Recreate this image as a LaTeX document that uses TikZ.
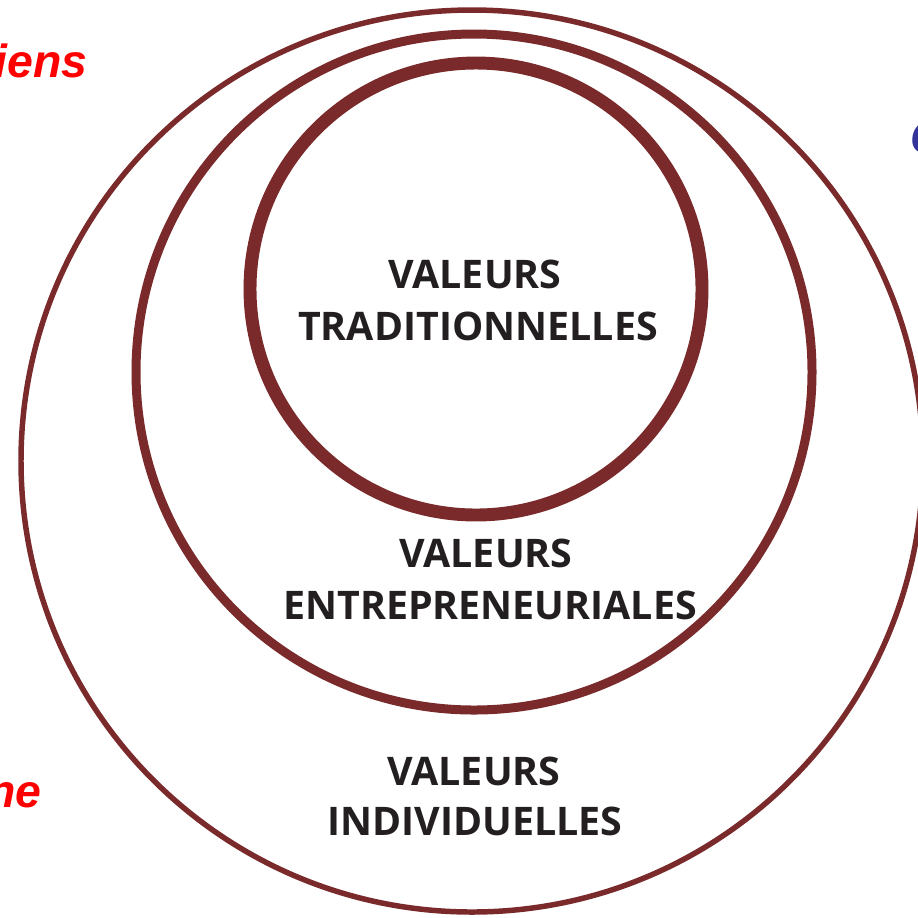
\documentclass[tikz,border=0pt]{standalone}
\usepackage{fontspec}
\setmainfont{Open Sans}
\newfontfamily\notefont{Liberation Sans}
\definecolor{ringred}{RGB}{122,42,43}
\definecolor{inkdark}{RGB}{35,31,32}
\definecolor{notered}{RGB}{255,0,0}
\definecolor{noteblue}{RGB}{51,51,153}
\begin{document}
\begin{tikzpicture}[x=0.025cm,y=-0.025cm,
    ring/.style={draw=ringred},
    valeur/.style={inner sep=0pt,anchor=base,text=inkdark,
      font=\fontsize{28}{34}\selectfont\bfseries},
    note/.style={inner sep=0pt,font=\notefont\fontsize{33}{38}\selectfont\bfseries\itshape}]
                    \useasboundingbox (0,0) rectangle (918,917);
                    \clip (0,0) rectangle (918,917);

                    % Drawing circle of individual values
                    \draw [ring, line width=3.9pt] (472,461) circle (451);%

                    % Drawing circle of entrepreneurial values
                    \draw [ring, line width=6.4pt] (474,372) circle (338);%

                    % Drawing circle of traditional values
                    \draw [ring, line width=9.2pt] (476,289) circle (226);%

                    % Marking traditional values
                    \node [valeur] (trad1) at (475,288) {VALEURS};%
                    \node [valeur] (trad2) at (478,340) {TRADITIONNELLES};%

                    % Marking entrepreneurial values
                    \node [valeur] (entr1) at (486,567) {VALEURS};%
                    \node [valeur] (entr2) at (490,619) {ENTREPRENEURIALES};%

                    % Marking individual values
                    \node [valeur] (indi1) at (474,785) {VALEURS};%
                    \node [valeur] (indi2) at (475,835) {INDIVIDUELLES};%

                    % Marking cut words at the edges
                    \node [note, text=notered, anchor=base east] (mottop) at (88,77) {iens};%
                    \node [note, text=notered, anchor=base east] (motbas) at (42,807) {ne};%
                    \node [note, text=noteblue, anchor=base west] (motdroit) at (910,153) {C};%
\end{tikzpicture}
\end{document}
